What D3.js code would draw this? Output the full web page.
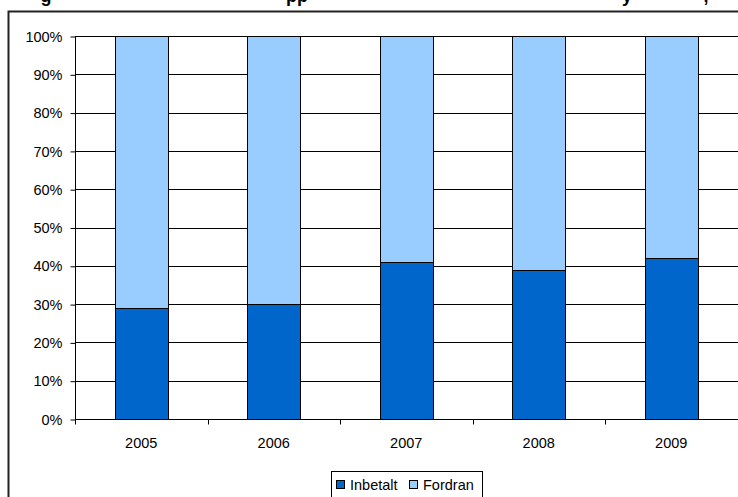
<!DOCTYPE html>
<html><head><meta charset="utf-8">
<script src="https://cdn.jsdelivr.net/npm/d3@7"></script>
<style>
html,body{margin:0;padding:0;background:#fff;}
svg{display:block;font-family:"Liberation Sans",Arial,sans-serif;}
</style></head>
<body>
<svg id="chart" width="738" height="497"></svg>
<script>
const years = ["2005","2006","2007","2008","2009"];
const inbetalt = [29, 30, 41, 39, 42];
const fordran = [71, 70, 59, 61, 58];
const seriesNames = ["Inbetalt","Fordran"];
const seriesColors = ["#0066CC","#99CCFF"];
const yTicks = [0,10,20,30,40,50,60,70,80,90,100];

const svg = d3.select("#chart");
const W = 738, H = 497;
const m = {left:75, right:0.5, top:36, bottom:78};
const FS = 14.5;

// outer frame
svg.append("path").attr("d", `M8.5,${H} L8.5,11.5 L${W},11.5`)
  .attr("fill","none").attr("stroke","#222").attr("stroke-width",2);

// clipped title fragments (only descenders visible, as in the reference)
const titleBits = [{t:"g",x:46},{t:"pp",x:297},{t:"y",x:627},{t:",",x:706}];
svg.selectAll("text.title").data(titleBits).enter().append("text")
  .attr("class","title").attr("x",d=>d.x).attr("y",1.5)
  .attr("text-anchor","middle").attr("font-size",18).attr("font-weight","bold")
  .text(d=>d.t);

const x = d3.scaleBand().domain(years).range([m.left, W - m.right]).paddingInner(0).paddingOuter(0);
const y = d3.scaleLinear().domain([0,100]).range([419, 36]);

// gridlines
svg.append("g").selectAll("line").data(yTicks.filter(d=>d>0)).enter().append("line")
  .attr("x1", m.left).attr("x2", W).attr("y1", d=>Math.round(y(d))+0.5).attr("y2", d=>Math.round(y(d))+0.5)
  .attr("stroke","#000").attr("stroke-width",1);

// stacked bars
const stackData = years.map((yr,i)=>({year:yr, Inbetalt:inbetalt[i], Fordran:fordran[i]}));
const stacked = d3.stack().keys(seriesNames)(stackData);
const bw = x.bandwidth()*0.4;
stacked.forEach((s,si)=>{
  svg.append("g").selectAll("rect").data(s).enter().append("rect")
    .attr("x", d=>Math.round(x(d.data.year)+x.bandwidth()/2-bw/2)+0.5)
    .attr("width", Math.round(bw))
    .attr("y", d=>Math.round(y(d[1]))+0.5)
    .attr("height", d=>Math.round(y(d[0]))-Math.round(y(d[1])))
    .attr("fill", seriesColors[si]).attr("stroke","#000").attr("stroke-width",1);
});

// y axis
const yAxis = d3.axisLeft(y).tickValues(yTicks).tickFormat(d=>d+"%").tickSize(5).tickPadding(8);
const gy = svg.append("g").attr("transform",`translate(${m.left+0.5},0.5)`).call(yAxis);
gy.select(".domain").attr("d", `M-0,${Math.round(y(100))}V${Math.round(y(0))}`).attr("stroke","#000");
gy.selectAll(".tick line").attr("stroke","#000");
gy.selectAll("text").attr("font-size",FS).attr("fill","#000").attr("font-family","Liberation Sans, Arial, sans-serif");

// x axis
const gx = svg.append("g").attr("transform",`translate(0,${Math.round(y(0))+0.5})`);
gx.append("line").attr("x1",m.left).attr("x2",W).attr("stroke","#000");
const bounds = years.map(d=>x(d)).concat([W - m.right]);
gx.selectAll("line.tk").data(bounds).enter().append("line").attr("class","tk")
  .attr("x1",d=>Math.round(d)+0.5).attr("x2",d=>Math.round(d)+0.5).attr("y1",0).attr("y2",5).attr("stroke","#000");
gx.selectAll("text").data(years).enter().append("text")
  .attr("x",d=>x(d)+x.bandwidth()/2).attr("y",28).attr("text-anchor","middle")
  .attr("font-size",FS).attr("fill","#000").text(d=>d);

// legend
const lg = svg.append("g");
lg.append("rect").attr("x",331.5).attr("y",471.5).attr("width",151).attr("height",40)
  .attr("fill","#fff").attr("stroke","#000").attr("stroke-width",1);
const items = [{n:seriesNames[0],c:seriesColors[0],x:336},{n:seriesNames[1],c:seriesColors[1],x:409}];
items.forEach(it=>{
  lg.append("rect").attr("x",it.x+0.5).attr("y",480.5).attr("width",8).attr("height",8)
    .attr("fill",it.c).attr("stroke","#000");
  lg.append("text").attr("x",it.x+14).attr("y",490).attr("font-size",FS).attr("fill","#000").text(it.n);
});
</script>
</body></html>
